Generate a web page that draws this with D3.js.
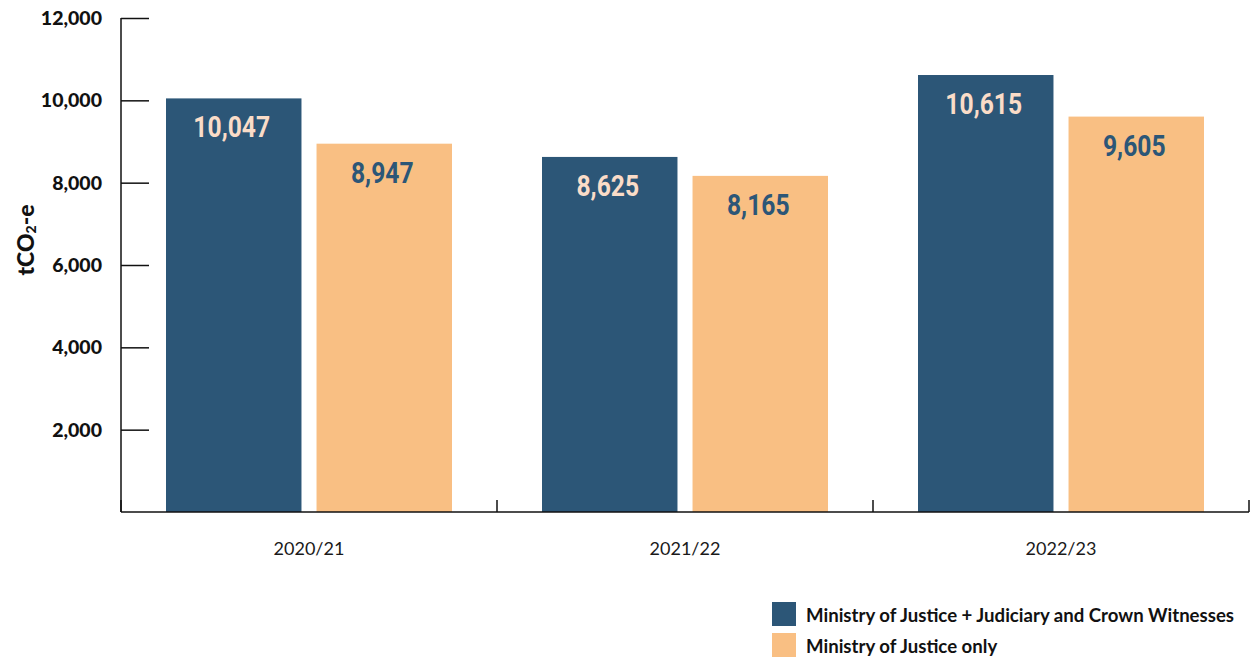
<!DOCTYPE html>
<html>
<head>
<meta charset="utf-8">
<script src="https://cdn.jsdelivr.net/npm/d3@7"></script>
<style>
  body { margin: 0; background: #fff; }
  svg { display: block; }
</style>
</head>
<body>
<svg id="chart" width="1250" height="658"></svg>
<script>
// Emissions by reporting year, tonnes CO2 equivalent
const categories = ["2020/21", "2021/22", "2022/23"];
const seriesNames = [
  "Ministry of Justice + Judiciary and Crown Witnesses",
  "Ministry of Justice only"
];
const combinedValues = [10047, 8625, 10615];
const mojOnlyValues = [8947, 8165, 9605];
const yTickValues = [2000, 4000, 6000, 8000, 10000, 12000];

const colors = ["#2c5677", "#f9bf83"];
const labelColors = ["#fadcc8", "#2c5677"];

const svg = d3.select("#chart");
const margin = { left: 121, right: 1249, top: 18, bottom: 512 };

const x0 = d3.scaleBand().domain(categories).range([margin.left, margin.right]).padding(0);
const x1 = d3.scaleBand().domain(seriesNames).range([45, x0.bandwidth() - 45]).paddingInner(0.1);
const y = d3.scaleLinear().domain([0, 12000]).range([margin.bottom, margin.top]);

const rows = categories.map((c, i) => ({
  category: c,
  values: [
    { series: seriesNames[0], value: combinedValues[i], idx: 0 },
    { series: seriesNames[1], value: mojOnlyValues[i], idx: 1 }
  ]
}));

// Bars
const groups = svg.append("g").selectAll("g")
  .data(rows).join("g")
  .attr("transform", d => `translate(${x0(d.category)},0)`);

groups.selectAll("rect")
  .data(d => d.values).join("rect")
  .attr("x", d => x1(d.series))
  .attr("y", d => y(d.value))
  .attr("width", x1.bandwidth())
  .attr("height", d => y(0) - y(d.value))
  .attr("fill", d => colors[d.idx]);

// Value labels inside the bar tops
groups.selectAll("text.val")
  .data(d => d.values).join("text")
  .attr("class", "val")
  .attr("transform", d => `translate(${x1(d.series) + x1.bandwidth() / 2 - 2},${y(d.value) + 39}) scale(0.85,1)`)
  .attr("text-anchor", "middle")
  .attr("font-family", "Roboto, sans-serif")
  .attr("font-weight", 700)
  .attr("font-size", 29)
  .attr("fill", d => labelColors[d.idx])
  .text(d => d3.format(",")(d.value));

// Y axis: ticks point into the plot
const yAxis = d3.axisRight(y).tickValues(yTickValues).tickSize(28).tickFormat("");
const yg = svg.append("g").attr("transform", `translate(${margin.left},0)`).call(yAxis);
yg.select(".domain").attr("d", `M0,${margin.top}V${margin.bottom}`);
yg.selectAll("path, line").attr("stroke", "#111").attr("stroke-width", 1.5);

svg.append("g").selectAll("text")
  .data(yTickValues).join("text")
  .attr("x", 102)
  .attr("y", d => y(d))
  .attr("dy", "0.36em")
  .attr("text-anchor", "end")
  .attr("font-family", "Lato, sans-serif")
  .attr("font-weight", 900)
  .attr("font-size", 19.5)
  .attr("fill", "#111")
  .text(d => d3.format(",")(d));

// X axis: line with ticks at band edges
const edges = categories.map(c => x0(c) + x0.bandwidth()).concat([margin.left]);
const xg = svg.append("g");
xg.append("line")
  .attr("x1", margin.left).attr("x2", margin.right)
  .attr("y1", y(0)).attr("y2", y(0))
  .attr("stroke", "#111").attr("stroke-width", 1.5);
xg.selectAll("line.edge")
  .data(edges).join("line")
  .attr("class", "edge")
  .attr("x1", d => d).attr("x2", d => d)
  .attr("y1", y(0)).attr("y2", y(0) - 12)
  .attr("stroke", "#111").attr("stroke-width", 1.5);

xg.selectAll("text")
  .data(categories).join("text")
  .attr("x", d => x0(d) + x0.bandwidth() / 2)
  .attr("y", 555)
  .attr("text-anchor", "middle")
  .attr("font-family", "Lato, sans-serif")
  .attr("font-size", 18)
  .attr("fill", "#1a1a1a")
  .text(d => d);

// Y axis title
const yTitle = svg.append("text")
  .attr("transform", "translate(34,240) rotate(-90)")
  .attr("text-anchor", "middle")
  .attr("font-family", "Lato, sans-serif")
  .attr("font-weight", 900)
  .attr("font-size", 23)
  .attr("fill", "#111");
yTitle.append("tspan").text("tCO");
yTitle.append("tspan").attr("font-size", 14).attr("dy", 2).text("2");
yTitle.append("tspan").attr("dy", -2).text("-e");

// Legend
const legend = svg.append("g").selectAll("g")
  .data(seriesNames).join("g")
  .attr("transform", (d, i) => `translate(772,${602 + i * 31})`);
legend.append("rect")
  .attr("width", 24).attr("height", 24)
  .attr("fill", (d, i) => colors[i]);
legend.append("text")
  .attr("x", 34).attr("y", 20)
  .attr("font-family", "Lato, sans-serif")
  .attr("font-weight", 700)
  .attr("font-size", 18.6)
  .attr("fill", "#111")
  .text(d => d);
</script>
</body>
</html>
